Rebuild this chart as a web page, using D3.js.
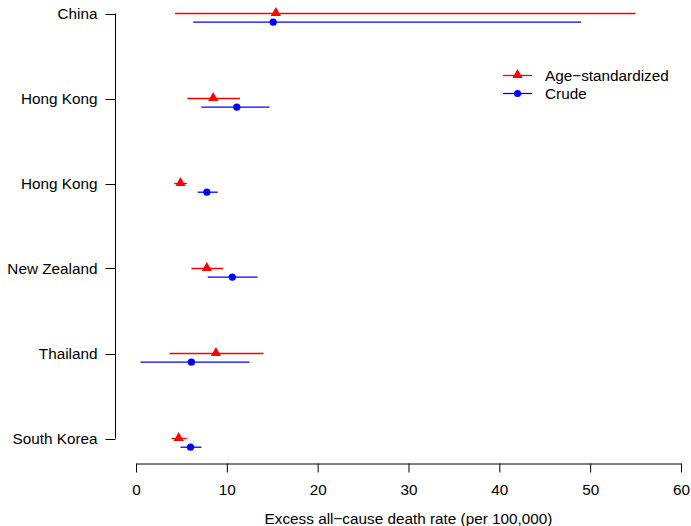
<!DOCTYPE html>
<html lang="en">
  <head>
    <meta charset="utf-8">
    <title>Excess all-cause death rate</title>
    <script src="https://d3js.org/d3.v7.js"></script>
    <style>
      body { margin: 0; background: white; }
      text { font-family: "Liberation Sans", Arial, sans-serif; font-size: 15.3px; fill: black; }
    </style>
  </head>
  <body>
  <script>

  // data
  var regions = ["China", "Hong Kong", "Hong Kong", "New Zealand", "Thailand", "South Korea"];
  var ageStd = [15.4, 8.5, 4.9, 7.8, 8.8, 4.7];
  var ageStdLow = [4.3, 5.65, 4.2, 6.1, 3.7, 3.9];
  var ageStdHigh = [55.0, 11.45, 5.6, 9.6, 14.05, 5.6];
  var crude = [15.1, 11.1, 7.8, 10.6, 6.1, 6.0];
  var crudeLow = [6.3, 7.2, 6.8, 7.9, 0.5, 4.9];
  var crudeHigh = [49.0, 14.7, 9.0, 13.4, 12.5, 7.2];
  var xTicks = [0, 10, 20, 30, 40, 50, 60];
  var seriesNames = ["Age\u2212standardized", "Crude"];
  var seriesColors = ["red", "blue"];

  var w = 691;
  var h = 526;

  var svg = d3.select("body")
    .append("svg")
      .attr("width", w)
      .attr("height", h);

  var xScale = d3.scaleLinear()
      .domain([0, 60])
      .range([136, 681]);

  // rows 0..5 top to bottom
  var yScale = d3.scaleLinear()
      .domain([0, 5])
      .range([13.5, 438.5]);
  var off = 8.7;

  // x axis
  var xAxis = d3.axisBottom(xScale)
      .tickValues(xTicks)
      .tickSize(9)
      .tickPadding(12)
      .tickSizeOuter(0);
  var gx = svg.append("g")
      .attr("transform", "translate(0,463.5)")
      .call(xAxis);
  gx.select(".domain").attr("stroke", "black");
  gx.selectAll("text").style("font-size", "15.3px").attr("font-family", null);

  svg.append("text")
     .attr("x", xScale(30))
     .attr("y", 524)
     .attr("text-anchor", "middle")
     .text("Excess all\u2212cause death rate (per 100,000)");

  // y axis
  var gy = svg.append("g").attr("transform", "translate(115.5,0)");
  gy.append("line")
     .attr("y1", yScale(0))
     .attr("y2", yScale(5))
     .attr("stroke", "black");
  gy.selectAll(".ytick")
     .data(regions)
     .join("line")
     .attr("x1", -10).attr("x2", 0)
     .attr("y1", (d, i) => Math.round(yScale(i)) + 0.5)
     .attr("y2", (d, i) => Math.round(yScale(i)) + 0.5)
     .attr("stroke", "black");
  gy.selectAll(".ylab")
     .data(regions)
     .join("text")
     .attr("x", -18)
     .attr("y", (d, i) => yScale(i))
     .attr("dy", "0.35em")
     .attr("text-anchor", "end")
     .text(d => d);

  var tri = d3.symbol().type(d3.symbolTriangle).size(45);

  // age-standardized
  var gA = svg.append("g");
  gA.selectAll("line")
     .data(regions)
     .join("line")
     .attr("x1", (d, i) => xScale(ageStdLow[i]))
     .attr("x2", (d, i) => xScale(ageStdHigh[i]))
     .attr("y1", (d, i) => yScale(i))
     .attr("y2", (d, i) => yScale(i))
     .attr("stroke", seriesColors[0])
     .attr("stroke-width", 1.3);
  gA.selectAll("path")
     .data(regions)
     .join("path")
     .attr("d", tri)
     .attr("transform", (d, i) => "translate(" + xScale(ageStd[i]) + "," + (yScale(i) - 0.5) + ")")
     .attr("fill", seriesColors[0]);

  // crude
  var gC = svg.append("g");
  gC.selectAll("line")
     .data(regions)
     .join("line")
     .attr("x1", (d, i) => xScale(crudeLow[i]))
     .attr("x2", (d, i) => xScale(crudeHigh[i]))
     .attr("y1", (d, i) => yScale(i) + off)
     .attr("y2", (d, i) => yScale(i) + off)
     .attr("stroke", seriesColors[1])
     .attr("stroke-width", 1.3);
  gC.selectAll("circle")
     .data(regions)
     .join("circle")
     .attr("cx", (d, i) => xScale(crude[i]))
     .attr("cy", (d, i) => yScale(i) + off)
     .attr("r", 3.6)
     .attr("fill", seriesColors[1]);

  // legend
  var leg = svg.append("g");
  var legY = [75.5, 93.5];
  leg.selectAll("line")
     .data(seriesNames)
     .join("line")
     .attr("x1", 503).attr("x2", 532)
     .attr("y1", (d, i) => legY[i]).attr("y2", (d, i) => legY[i])
     .attr("stroke", (d, i) => seriesColors[i])
     .attr("stroke-width", 1.3);
  leg.append("path")
     .attr("d", tri)
     .attr("transform", "translate(517.5," + (legY[0] - 0.5) + ")")
     .attr("fill", seriesColors[0]);
  leg.append("circle")
     .attr("cx", 517.5).attr("cy", legY[1]).attr("r", 3.6)
     .attr("fill", seriesColors[1]);
  leg.selectAll("text")
     .data(seriesNames)
     .join("text")
     .attr("x", 545)
     .attr("y", (d, i) => legY[i])
     .attr("dy", "0.35em")
     .text(d => d);

  </script>
  </body>
</html>
